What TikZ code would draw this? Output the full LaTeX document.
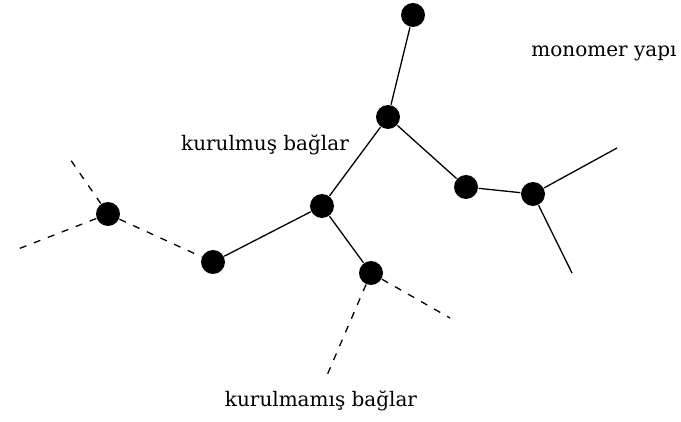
\documentclass[tikz,border=0pt]{standalone}
\usepackage{fontspec}
\setmainfont{DejaVu Serif}
\begin{document}
\begin{tikzpicture}[x=1pt,y=-1pt,line width=1.3pt,
            atom/.style={circle,fill,inner sep=0pt,minimum size=24pt},
            acik/.style={dash pattern=on 7pt off 8pt},
            yazi/.style={font=\fontsize{20}{22}\selectfont}]
            \useasboundingbox (0,0) rectangle (681,422);
            \node[atom] (a) at (108,214) {};
            \node[atom] (b) at (213,262) {};
            \node[atom] (c) at (322,206) {};
            \node[atom] (d) at (388,117) {};
            \node[atom] (e) at (413,15) {};
            \node[atom] (f) at (371,273) {};
            \node[atom] (g) at (466,187) {};
            \node[atom] (h) at (533,194) {};
            \coordinate (a1) at (70,159);
            \coordinate (a2) at (13,251);
            \coordinate (f1) at (450,318);
            \coordinate (f2) at (325,380);
            \coordinate (h1) at (617,148);
            \coordinate (h2) at (572,273);
            \draw (b)--(c)--(d)--(e);
            \draw (c)--(f);
            \draw (d)--(g)--(h)--(h1);
            \draw (h)--(h2);
            \draw[acik] (a)--(b);
            \draw[acik] (a)--(a1);
            \draw[acik] (a)--(a2);
            \draw[acik] (f)--(f1);
            \draw[acik] (f)--(f2);
            \node[yazi] (t1) at (265,145) {kurulmuş bağlar};
            \node[yazi] (t2) at (604,53) {monomer yapı};
            \node[yazi] (t3) at (321,401) {kurulmamış bağlar};
        \end{tikzpicture}
\end{document}
